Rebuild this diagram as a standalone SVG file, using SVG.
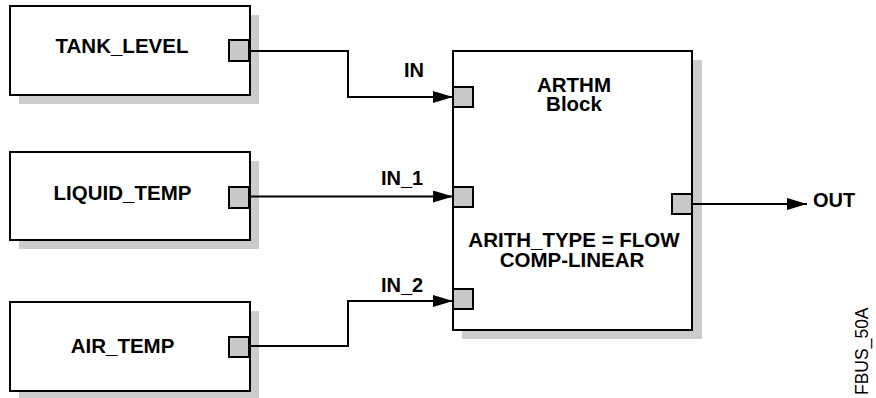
<svg xmlns="http://www.w3.org/2000/svg" width="876" height="398" viewBox="0 0 876 398">
<style>
.box{fill:#fff;stroke:#000;stroke-width:2}
.shadow{fill:#cccccc}
.port{fill:#c8c8c8;stroke:#000;stroke-width:2}
.t{font-family:"Liberation Sans",Arial,sans-serif;font-weight:bold;font-size:20.5px;fill:#000;text-anchor:middle}
.lbl{font-family:"Liberation Sans",Arial,sans-serif;font-weight:bold;font-size:20px;fill:#000}
.wire{fill:none;stroke:#000;stroke-width:2}
</style>
<defs>
<marker id="arr" markerWidth="20" markerHeight="12" refX="20" refY="6" orient="auto" markerUnits="userSpaceOnUse">
<path d="M0,0 L20,6 L0,12 Z" fill="#000"/>
</marker>
</defs>
<rect width="876" height="398" fill="#fff"/>
<g id="tank_level">
<rect class="shadow" x="19" y="15" width="240" height="89"/>
<rect class="box" x="10" y="6" width="240" height="89"/>
<rect class="port" x="229" y="40" width="20" height="21"/>
<text class="t" x="122" y="53">TANK_LEVEL</text>
</g>
<g id="liquid_temp">
<rect class="shadow" x="19" y="161" width="240" height="88"/>
<rect class="box" x="10" y="152" width="240" height="88"/>
<rect class="port" x="229" y="187" width="20" height="21"/>
<text class="t" x="122.5" y="200">LIQUID_TEMP</text>
</g>
<g id="air_temp">
<rect class="shadow" x="19" y="311" width="240" height="89"/>
<rect class="box" x="10" y="302" width="240" height="89"/>
<rect class="port" x="229" y="337" width="20" height="20"/>
<text class="t" x="122.5" y="353">AIR_TEMP</text>
</g>
<g id="arthm">
<rect class="shadow" x="462" y="60" width="240" height="279"/>
<rect class="box" x="453" y="51" width="239" height="279"/>
<rect class="port" x="453" y="87" width="20" height="20"/>
<rect class="port" x="453" y="187" width="20" height="20"/>
<rect class="port" x="453" y="289" width="20" height="20"/>
<rect class="port" x="672" y="194" width="20" height="20"/>
<text class="t" x="574" y="92">ARTHM</text>
<text class="t" x="574" y="111">Block</text>
<text class="t" x="574" y="247">ARITH_TYPE = FLOW</text>
<text class="t" x="572" y="267">COMP-LINEAR</text>
</g>
<g id="connectors">
<polyline class="wire" points="250,51 348,51 348,97 453,97" marker-end="url(#arr)"/>
<polyline class="wire" points="250,196.5 453,196.5" marker-end="url(#arr)"/>
<polyline class="wire" points="250,346 348,346 348,301 453,301" marker-end="url(#arr)"/>
<polyline class="wire" points="692,204 807,204" marker-end="url(#arr)"/>
<text class="lbl" x="404" y="77">IN</text>
<text class="lbl" x="381" y="185">IN_1</text>
<text class="lbl" x="381" y="292">IN_2</text>
<text class="lbl" x="813" y="207">OUT</text>
</g>
<text x="868" y="395" transform="rotate(-90 868 395)" font-family="'Liberation Sans',Arial,sans-serif" font-size="17.5" fill="#000">FBUS_50A</text>
</svg>
